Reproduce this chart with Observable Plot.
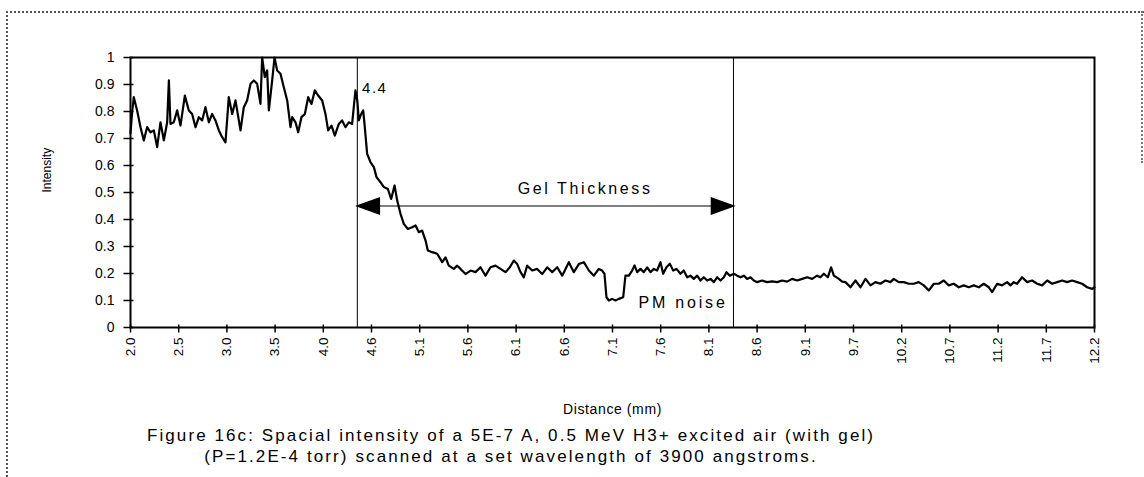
<!DOCTYPE html>
<html>
<head>
<meta charset="utf-8">
<script src="https://cdn.jsdelivr.net/npm/d3@7"></script>
<script src="https://cdn.jsdelivr.net/npm/@observablehq/plot@0.6"></script>
<style>
  html, body { margin: 0; padding: 0; background: #fff; }
  body { width: 1144px; height: 477px; position: relative; overflow: hidden; font-family: "Liberation Sans", Arial, sans-serif; }
  #chart { position: absolute; left: 0; top: 0; }
  .frameTL { position: absolute; left: 6px; top: 11px; width: 1136px; height: 520px; border-top: 2px dotted #555; border-left: 2px dotted #555; }
  .frameR { position: absolute; left: 1141px; top: 11px; width: 0; height: 152px; border-left: 2px dotted #777; }
  .caption { position: absolute; left: 0; width: 1022px; text-align: center; font-size: 17px; letter-spacing: 2.1px; color: #000; }
</style>
</head>
<body>
<div class="frameTL"></div>
<div class="frameR"></div>
<div id="chart"></div>
<div class="caption" style="top:426px">Figure 16c: Spacial intensity of a 5E-7 A, 0.5 MeV H3+ excited air (with gel)</div>
<div class="caption" style="top:447px">(P=1.2E-4 torr) scanned at a set wavelength of 3900 angstroms.</div>
<script>
// ---- data ----
const distance = [
  2.000, 2.018, 2.035, 2.070, 2.106, 2.141, 2.176, 2.212, 2.247, 2.282, 2.317, 2.353, 2.388, 2.406, 2.423, 2.458, 2.494, 2.529, 2.575, 2.617,
  2.652, 2.688, 2.723, 2.758, 2.793, 2.829, 2.864, 2.899, 2.935, 2.970, 3.005, 3.040, 3.076, 3.111, 3.164, 3.199, 3.234, 3.270, 3.305, 3.340,
  3.375, 3.393, 3.421, 3.446, 3.464, 3.499, 3.524, 3.552, 3.587, 3.622, 3.658, 3.693, 3.711, 3.746, 3.774, 3.809, 3.845, 3.880, 3.915, 3.950,
  3.986, 4.028, 4.063, 4.091, 4.127, 4.162, 4.204, 4.239, 4.275, 4.310, 4.345, 4.380,
  4.400, 4.416, 4.441, 4.462, 4.476, 4.504, 4.540, 4.575, 4.603, 4.645, 4.681, 4.723, 4.758, 4.794, 4.822, 4.857, 4.892, 4.935, 4.980, 5.016,
  5.051, 5.086, 5.122, 5.146, 5.192, 5.245, 5.298, 5.333, 5.368, 5.421, 5.457, 5.492, 5.545, 5.598, 5.651, 5.703, 5.756, 5.809, 5.862, 5.915,
  5.968, 6.014, 6.056, 6.092, 6.127, 6.162, 6.197, 6.250, 6.303, 6.356, 6.409, 6.462, 6.515, 6.568, 6.638, 6.691, 6.744, 6.797, 6.850, 6.903,
  6.955, 6.990, 7.015, 7.036, 7.061, 7.096, 7.132, 7.167, 7.213, 7.237, 7.273, 7.308, 7.333, 7.361, 7.396, 7.431, 7.467, 7.502, 7.537, 7.572,
  7.608, 7.636, 7.671, 7.706, 7.742, 7.777, 7.819, 7.854, 7.890, 7.925, 7.960, 7.996, 8.031, 8.066, 8.101, 8.137, 8.172, 8.207, 8.243, 8.278,
  8.306, 8.341, 8.384, 8.419, 8.454, 8.490, 8.525, 8.560, 8.595, 8.630, 8.683, 8.736, 8.789, 8.842, 8.895, 8.948, 9.001, 9.054, 9.107, 9.160,
  9.212, 9.265, 9.300, 9.336, 9.378, 9.413, 9.442, 9.495,
  9.530, 9.565, 9.618, 9.671, 9.724, 9.777, 9.830, 9.882, 9.935, 9.988, 10.041, 10.076, 10.129, 10.182, 10.235, 10.288, 10.341, 10.394, 10.447, 10.500,
  10.552, 10.605, 10.658, 10.711, 10.764, 10.817, 10.870, 10.923, 10.976, 11.029, 11.082, 11.117, 11.170, 11.222, 11.275, 11.311, 11.346, 11.381, 11.434, 11.487,
  11.540, 11.593, 11.646, 11.699, 11.752, 11.805, 11.858, 11.910, 11.963, 12.016, 12.069, 12.122, 12.175, 12.200
];
const intensity = [
  0.720, 0.800, 0.853, 0.804, 0.742, 0.693, 0.742, 0.723, 0.730, 0.668, 0.760, 0.693, 0.760, 0.915, 0.754, 0.760, 0.804, 0.748, 0.859, 0.804,
  0.791, 0.742, 0.779, 0.767, 0.816, 0.760, 0.791, 0.767, 0.730, 0.705, 0.686, 0.853, 0.791, 0.841, 0.730, 0.816, 0.841, 0.903, 0.915, 0.903,
  0.828, 1.000, 0.927, 0.952, 0.804, 0.915, 1.000, 0.952, 0.940, 0.890, 0.841, 0.742, 0.779, 0.760, 0.723, 0.779, 0.791, 0.853, 0.828, 0.878,
  0.859, 0.841, 0.791, 0.730, 0.748, 0.711, 0.754, 0.767, 0.742, 0.760, 0.754, 0.878,
  0.840, 0.767, 0.791, 0.804, 0.754, 0.643, 0.612, 0.594, 0.557, 0.538, 0.520, 0.513, 0.476, 0.526, 0.470, 0.421, 0.384, 0.365, 0.371, 0.378,
  0.353, 0.359, 0.322, 0.285, 0.279, 0.273, 0.242, 0.260, 0.229, 0.217, 0.229, 0.217, 0.198, 0.211, 0.205, 0.223, 0.192, 0.223, 0.229, 0.217,
  0.205, 0.223, 0.248, 0.235, 0.205, 0.186, 0.229, 0.211, 0.217, 0.198, 0.223, 0.205, 0.223, 0.192, 0.242, 0.205, 0.235, 0.242, 0.211, 0.192,
  0.217, 0.211, 0.199, 0.112, 0.100, 0.106, 0.100, 0.106, 0.112, 0.192, 0.192, 0.211, 0.230, 0.205, 0.217, 0.205, 0.223, 0.205, 0.217, 0.211,
  0.242, 0.199, 0.223, 0.236, 0.211, 0.217, 0.199, 0.211, 0.186, 0.192, 0.180, 0.192, 0.174, 0.186, 0.174, 0.180, 0.168, 0.186, 0.174, 0.186,
  0.205, 0.192, 0.199, 0.192, 0.186, 0.192, 0.180, 0.186, 0.174, 0.168, 0.174, 0.168, 0.171, 0.168, 0.174, 0.170, 0.180, 0.174, 0.180, 0.186,
  0.180, 0.192, 0.186, 0.199, 0.186, 0.223, 0.192, 0.180,
  0.170, 0.168, 0.149, 0.174, 0.149, 0.180, 0.156, 0.168, 0.162, 0.174, 0.168, 0.180, 0.168, 0.168, 0.162, 0.162, 0.168, 0.156, 0.137, 0.162,
  0.162, 0.174, 0.156, 0.162, 0.149, 0.156, 0.149, 0.156, 0.149, 0.162, 0.149, 0.131, 0.162, 0.156, 0.168, 0.156, 0.168, 0.162, 0.186, 0.168,
  0.174, 0.162, 0.156, 0.174, 0.162, 0.168, 0.174, 0.168, 0.174, 0.168, 0.162, 0.149, 0.143, 0.149
];
const xTickValues = [2.0, 2.51, 3.02, 3.53, 4.04, 4.55, 5.06, 5.57, 6.08, 6.59, 7.10, 7.61, 8.12, 8.63, 9.14, 9.65, 10.16, 10.67, 11.18, 11.69, 12.2];
const xTickLabels = ["2.0", "2.5", "3.0", "3.5", "4.0", "4.6", "5.1", "5.6", "6.1", "6.6", "7.1", "7.6", "8.1", "8.6", "9.1", "9.7", "10.2", "10.7", "11.2", "11.7", "12.2"];
const yTickValues = [0, 0.1, 0.2, 0.3, 0.4, 0.5, 0.6, 0.7, 0.8, 0.9, 1];
const yTickLabels = ["0", "0.1", "0.2", "0.3", "0.4", "0.5", "0.6", "0.7", "0.8", "0.9", "1"];
const markerLines = [4.4, 8.38];
const gelArrowY = 0.45;
const valueNotes = [
  {x: 4.45, y: 0.885, text: "4.4"}
];
const noiseNotes = [
  {x: 7.375, y: 0.093, text: "PM noise"}
];
const gelNotes = [
  {x: 6.81, y: 0.515, text: "Gel Thickness"}
];

// ---- build ----
const series = distance.map((d, i) => ({distance: d, intensity: intensity[i]}));
const yTickSym = {draw(c) { c.moveTo(-7, 0); c.lineTo(3, 0); }};
const xTickSym = {draw(c) { c.moveTo(0, -3); c.lineTo(0, 5); }};
const headLeft = {draw(c) { c.moveTo(0, 0); c.lineTo(22, -8); c.lineTo(22, 8); c.closePath(); }};
const headRight = {draw(c) { c.moveTo(0, 0); c.lineTo(-22, -8); c.lineTo(-22, 8); c.closePath(); }};

const chart = Plot.plot({
  width: 1144,
  height: 420,
  marginLeft: 130,
  marginRight: 50,
  marginTop: 57,
  marginBottom: 93,
  style: {fontFamily: "'Liberation Sans', Arial, sans-serif", color: "#000", background: "transparent"},
  x: {type: "linear", domain: [2.0, 12.2]},
  y: {domain: [0, 1]},
  marks: [
    Plot.axisY(yTickValues, {tickSize: 0, tickPadding: 16, tickFormat: (d, i) => yTickLabels[i], fontSize: 14, label: null}),
    Plot.axisX(xTickValues, {tickSize: 0, tickPadding: 10, tickRotate: -90, tickFormat: (d, i) => xTickLabels[i], fontSize: 13.5, label: null}),
    Plot.dot(yTickValues, {x: () => 2.0, y: d => d, symbol: yTickSym, stroke: "black", strokeWidth: 1.5, fill: "none", r: 3}),
    Plot.dot(xTickValues, {x: d => d, y: () => 0, symbol: xTickSym, stroke: "black", strokeWidth: 1.5, fill: "none", r: 3}),
    Plot.ruleX(markerLines, {y1: 0, y2: 1, stroke: "black", strokeWidth: 1}),
    Plot.ruleY([gelArrowY], {x1: markerLines[0], x2: markerLines[1], stroke: "black", strokeWidth: 1}),
    Plot.dot([gelArrowY], {x: () => markerLines[0], y: d => d, symbol: headLeft, fill: "black", stroke: "black", r: 3}),
    Plot.dot([gelArrowY], {x: () => markerLines[1], y: d => d, symbol: headRight, fill: "black", stroke: "black", r: 3}),
    Plot.line(series, {x: "distance", y: "intensity", stroke: "black", strokeWidth: 2.2, strokeLinejoin: "round"}),
    Plot.text(valueNotes, {x: "x", y: "y", text: "text", textAnchor: "start", fontSize: 15, fill: "black"}),
    Plot.text(noiseNotes, {x: "x", y: "y", text: "text", textAnchor: "start", fontSize: 16, fill: "black"}),
    Plot.text(gelNotes, {x: "x", y: "y", text: "text", textAnchor: "middle", fontSize: 16, fill: "black"}),
    Plot.text(["Intensity"], {frameAnchor: "left", dx: -83, rotate: -90, fontSize: 12, fill: "black"}),
    Plot.text(["Distance (mm)"], {frameAnchor: "bottom", dy: 86, fontSize: 14, fill: "black"}),
    Plot.frame({stroke: "black", strokeWidth: 2})
  ]
});
// widen letter spacing of the annotation texts, as in the scanned original
const spacing = {"Gel Thickness": 2.6, "PM noise": 2.8, "4.4": 1.5, "Distance (mm)": 0.6};
d3.select(chart).selectAll("text").each(function() {
  const s = spacing[this.textContent];
  if (s != null) { this.setAttribute("letter-spacing", s); this.style.letterSpacing = s + "px"; }
});
document.getElementById("chart").appendChild(chart);
</script>
</body>
</html>
